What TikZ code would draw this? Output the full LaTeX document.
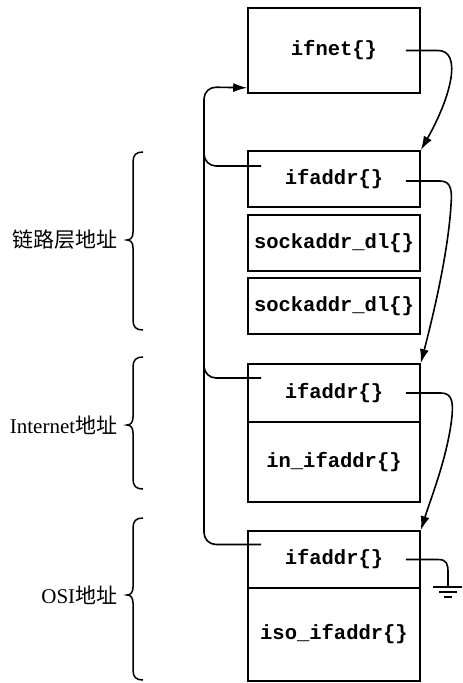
\documentclass[tikz,border=0pt]{standalone}
\usepackage{fontspec}
\setmainfont{Liberation Serif}
\newfontfamily\cjk{Noto Sans CJK SC}
\newfontfamily\codefont{Liberation Mono}
\usetikzlibrary{arrows.meta,calc}
\newcommand{\mybrace}[3]{%
  \draw[bracestyle] (143,#1) .. controls (136,#1) and (133,#1+3) .. (133,#1+10)
    -- (133,#2-8) .. controls (133,#2-3) and (131,#2) .. (127,#2)
    .. controls (131,#2) and (133,#2+3) .. (133,#2+8)
    -- (133,#3-10) .. controls (133,#3-3) and (136,#3) .. (143,#3);}
\begin{document}
\begin{tikzpicture}[x=1pt,y=-1pt,line width=1.6pt,
  box/.style={draw,rectangle,minimum width=172pt,inner sep=0pt,
    font=\codefont\bfseries\fontsize{20.5}{24}\selectfont},
  lbl/.style={anchor=east,inner sep=0pt,font=\fontsize{21}{24}\selectfont},
  conn/.style={-{Latex[length=14pt,width=9pt]}},
  bracestyle/.style={line width=1.5pt},
  loop/.style={rounded corners=12pt}]
\useasboundingbox (0,0) rectangle (463,683);

% boxes
\node[box,minimum height=85pt] (ifnet) at (334,50.5) {ifnet\{\}};
\node[box,minimum height=56pt] (ifaddrA) at (334,179) {ifaddr\{\}};
\node[box,minimum height=56pt] (sockA) at (334,243) {sockaddr\_dl\{\}};
\node[box,minimum height=56pt] (sockB) at (334,306) {sockaddr\_dl\{\}};
\node[box,minimum height=58pt] (ifaddrB) at (334,393) {ifaddr\{\}};
\node[box,minimum height=80pt] (inif) at (334,462) {in\_ifaddr\{\}};
\node[box,minimum height=57pt] (ifaddrC) at (334,559.5) {ifaddr\{\}};
\node[box,minimum height=93pt] (iso) at (334,634.5) {iso\_ifaddr\{\}};

% right-hand links
\draw[conn] ([xshift=-15pt]ifnet.east) -- (438,50.5)
  .. controls (462,50.5) and (452,95) .. (ifaddrA.north east);
\draw[conn] ([xshift=-15pt,yshift=-2pt]ifaddrA.east) -- (440,181)
  .. controls (452,181) and (452,192) .. (451,205)
  .. controls (448,255) and (432,320) .. (ifaddrB.north east);
\draw[conn] ([xshift=-15pt]ifaddrB.east) -- (441,393)
  .. controls (453,393) and (453,404) .. (452,416)
  .. controls (448,455) and (432,495) .. (ifaddrC.north east);
\draw ([xshift=-15pt]ifaddrC.east) -- (438,559.5)
  .. controls (447,559.5) and (448,564) .. (448,573) -- (448,587) coordinate (gnd);
\draw ([xshift=-15pt]gnd) -- ([xshift=14pt]gnd);
\draw ([xshift=-9pt,yshift=-5pt]gnd) -- ([xshift=9pt,yshift=-5pt]gnd);
\draw ([xshift=-4pt,yshift=-10pt]gnd) -- ([xshift=4pt,yshift=-10pt]gnd);

% left-hand links back to ifnet
\draw[conn,loop] ([xshift=14pt,yshift=15pt]ifaddrC.west) -- (204,544.5)
  -- (204,87) -- ([yshift=6pt]ifnet.south west);
\draw[loop] ([xshift=14pt,yshift=13pt]ifaddrA.west) -- (204,166) -- (204,140);
\draw[loop] ([xshift=14pt,yshift=15pt]ifaddrB.west) -- (204,378) -- (204,350);

% braces and labels
\mybrace{152}{240}{330}
\mybrace{357}{425}{489}
\mybrace{518}{595}{680}
\node[lbl] (lblA) at (118,240) {\cjk 链路层地址};
\node[lbl] (lblB) at (118,425) {Internet\cjk 地址};
\node[lbl] (lblC) at (118,595) {OSI\cjk 地址};
\end{tikzpicture}
\end{document}
